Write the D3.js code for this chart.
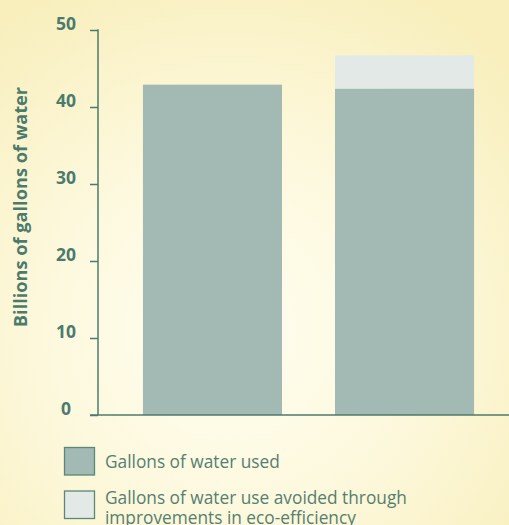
<!DOCTYPE html>
<html>
<head>
<meta charset="utf-8">
<script src="https://cdn.jsdelivr.net/npm/d3@7"></script>
<style>
  html, body { margin: 0; padding: 0; background: #fbf5cf; }
  svg { display: block; }
</style>
</head>
<body>
<svg id="chart" width="509" height="525"></svg>
<script>
// Water use: amount used, plus amount avoided by eco-efficiency gains
const categories = ["Baseline", "Current"];
const usedValues = [42.9, 42.4];
const avoidedValues = [0, 4.3];
const yTicks = [0, 10, 20, 30, 40, 50];
const legendLabels = [
  ["Gallons of water used"],
  ["Gallons of water use avoided through", "improvements in eco-efficiency"]
];

const W = 509, H = 525;
const ink = "#4b7b6d";
const usedColor = "#a3b9b3";
const avoidedColor = "#e3e9e6";

const svg = d3.select("#chart");

// soft yellow background, lighter toward the middle
const defs = svg.append("defs");
const grad = defs.append("radialGradient")
  .attr("id", "bg").attr("gradientUnits", "userSpaceOnUse")
  .attr("cx", 230).attr("cy", 330).attr("r", 380);
grad.append("stop").attr("offset", 0).attr("stop-color", "#fffdf0");
grad.append("stop").attr("offset", 0.45).attr("stop-color", "#fdf9df");
grad.append("stop").attr("offset", 1).attr("stop-color", "#f8efbd");
svg.append("rect").attr("width", W).attr("height", H).attr("fill", "url(#bg)");

const axisX = 98;
const y = d3.scaleLinear().domain([0, 50]).range([415, 30]);
const x = d3.scaleBand().domain(categories).range([axisX, 519])
  .paddingInner(0.276).paddingOuter(0.234);

// bars: used portion, then avoided portion stacked on top
const rows = categories.map((c, i) => ({ c, used: usedValues[i], avoided: avoidedValues[i] }));
const stack = d3.stack().keys(["used", "avoided"])(rows);
const colors = { used: usedColor, avoided: avoidedColor };

svg.append("g").selectAll("g").data(stack).join("g")
  .attr("fill", d => colors[d.key])
  .selectAll("rect").data(d => d).join("rect")
  .attr("x", d => x(d.data.c))
  .attr("width", x.bandwidth())
  .attr("y", d => y(d[1]))
  .attr("height", d => y(d[0]) - y(d[1]));

// y axis with ticks pointing left
const yAxis = d3.axisLeft(y).tickValues(yTicks).tickSize(8).tickFormat("");
const gy = svg.append("g").attr("transform", `translate(${axisX},0)`).call(yAxis);
gy.select(".domain").remove();
gy.selectAll(".tick line").attr("stroke", ink).attr("stroke-width", 1.5);
svg.append("line")
  .attr("x1", axisX).attr("x2", axisX)
  .attr("y1", y(50) - 0.75).attr("y2", y(0))
  .attr("stroke", ink).attr("stroke-width", 1.5);

// tick labels sit just above each tick
svg.append("g").selectAll("text").data(yTicks).join("text")
  .attr("x", 66).attr("y", d => y(d) - 0.5)
  .attr("text-anchor", "middle")
  .attr("font-family", "'Open Sans', sans-serif")
  .attr("font-weight", 700).attr("font-size", 17.5)
  .attr("fill", ink)
  .text(d => d);

// baseline across the plot
svg.append("line")
  .attr("x1", 90).attr("x2", W)
  .attr("y1", y(0)).attr("y2", y(0))
  .attr("stroke", ink).attr("stroke-width", 1.5);

// y axis title
svg.append("text")
  .attr("transform", `translate(27,207) rotate(-90)`)
  .attr("text-anchor", "middle")
  .attr("font-family", "'Open Sans', sans-serif")
  .attr("font-weight", 700).attr("font-size", 18.2)
  .attr("fill", ink)
  .text("Billions of gallons of water");

// legend
const legend = svg.append("g");
const swatchColors = [usedColor, avoidedColor];
const legendTops = [447.5, 491];
const firstBaseline = [468, 503.5];
legendLabels.forEach((lines, i) => {
  legend.append("rect")
    .attr("x", 64.5).attr("y", legendTops[i])
    .attr("width", 30).attr("height", 27.5)
    .attr("fill", swatchColors[i])
    .attr("stroke", "#5a887a").attr("stroke-width", 1.3);
  const t = legend.append("text")
    .attr("x", 105).attr("y", firstBaseline[i])
    .attr("font-family", "'Open Sans', sans-serif")
    .attr("font-size", 17.3)
    .attr("fill", "#557f72");
  lines.forEach((ln, j) => {
    t.append("tspan").attr("x", 105).attr("dy", j === 0 ? 0 : 20).text(ln);
  });
});
</script>
</body>
</html>
